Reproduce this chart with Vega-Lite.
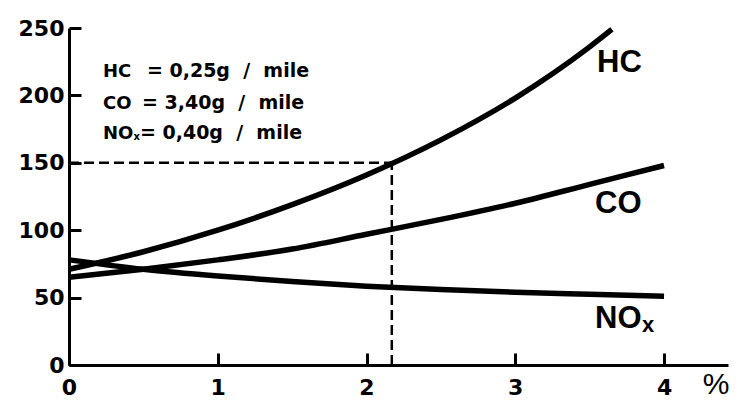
{
  "$schema": "https://vega.github.io/schema/vega-lite/v6.json",
  "width": 659,
  "height": 337,
  "autosize": {"type": "none"},
  "padding": {"left": 69, "top": 28, "right": 24, "bottom": 53},
  "background": "white",
  "config": {"view": {"stroke": null}},
  "datasets": {
    "curves": [
      {"gas": "HC", "x": 0, "y": 71}, {"gas": "HC", "x": 0.5, "y": 84}, {"gas": "HC", "x": 1, "y": 100},
      {"gas": "HC", "x": 1.5, "y": 119}, {"gas": "HC", "x": 2, "y": 141}, {"gas": "HC", "x": 2.5, "y": 167},
      {"gas": "HC", "x": 3, "y": 198}, {"gas": "HC", "x": 3.5, "y": 236}, {"gas": "HC", "x": 3.65, "y": 249},
      {"gas": "CO", "x": 0, "y": 65}, {"gas": "CO", "x": 0.5, "y": 71}, {"gas": "CO", "x": 1, "y": 78},
      {"gas": "CO", "x": 1.5, "y": 86}, {"gas": "CO", "x": 2, "y": 97}, {"gas": "CO", "x": 2.5, "y": 108},
      {"gas": "CO", "x": 3, "y": 120}, {"gas": "CO", "x": 3.5, "y": 134}, {"gas": "CO", "x": 4, "y": 148},
      {"gas": "NOx", "x": 0, "y": 78}, {"gas": "NOx", "x": 0.5, "y": 71}, {"gas": "NOx", "x": 1, "y": 66},
      {"gas": "NOx", "x": 1.5, "y": 62}, {"gas": "NOx", "x": 2, "y": 58.5}, {"gas": "NOx", "x": 2.5, "y": 56},
      {"gas": "NOx", "x": 3, "y": 54}, {"gas": "NOx", "x": 3.5, "y": 52.5}, {"gas": "NOx", "x": 4, "y": 51}
    ],
    "guides": [
      {"x": 0, "x2": 2.17, "y": 150, "y2": 150},
      {"x": 2.17, "x2": 2.17, "y": 0, "y2": 150}
    ],
    "bigLabels": [
      {"text": "HC", "x": 3.55, "y": 217.4},
      {"text": "CO", "x": 3.536, "y": 112.8},
      {"text": "NO", "x": 3.536, "y": 27.4}
    ],
    "bigSub": [{"text": "x", "x": 3.852, "y": 24.5}],
    "legendLeft": [
      {"text": "HC", "x": 0.2286, "y": 213.6},
      {"text": "CO", "x": 0.2286, "y": 189.9},
      {"text": "NO", "x": 0.2286, "y": 167.6}
    ],
    "legendRight": [
      {"text": "= 0,25g\u00a0\u00a0/\u00a0\u00a0mile", "x": 0.524, "y": 213.6},
      {"text": "= 3,40g\u00a0\u00a0/\u00a0\u00a0mile", "x": 0.491, "y": 189.9},
      {"text": "= 0,40g\u00a0\u00a0/\u00a0\u00a0mile", "x": 0.477, "y": 167.6}
    ],
    "legendSub": [{"text": "x", "x": 0.433, "y": 166.9}]
  },
  "encoding": {
    "x": {
      "field": "x", "type": "quantitative",
      "scale": {"domain": [0, 4.43], "nice": false, "zero": false},
      "axis": {
        "values": [0, 1, 2, 3, 4], "grid": false, "format": "d",
        "domainColor": "black", "domainWidth": 3, "tickColor": "black", "tickWidth": 3,
        "tickSize": -12, "labelPadding": 24, "labelColor": "black",
        "labelFont": "DejaVu Sans", "labelFontWeight": "bold", "labelFontSize": 22,
        "labelFlush": false,
        "title": "%", "titleFont": "Liberation Sans", "titleFontWeight": "normal", "titleFontSize": 30,
        "titleColor": "black", "titleAnchor": "end", "titleAlign": "right", "titleBaseline": "alphabetic",
        "titleX": 660, "titleY": 28
      }
    },
    "y": {
      "field": "y", "type": "quantitative",
      "scale": {"domain": [0, 250], "nice": false},
      "axis": {
        "values": [0, 50, 100, 150, 200, 250], "grid": false,
        "domainColor": "black", "domainWidth": 3, "tickColor": "black", "tickWidth": 3,
        "tickSize": -12, "labelPadding": 17, "labelColor": "black",
        "labelFont": "DejaVu Sans", "labelFontWeight": "bold", "labelFontSize": 22,
        "labelFlush": false, "title": null
      }
    }
  },
  "layer": [
    {
      "data": {"name": "guides"},
      "mark": {"type": "rule", "color": "black", "strokeWidth": 2.5, "strokeDash": [10, 5]},
      "encoding": {"x2": {"field": "x2"}, "y2": {"field": "y2"}}
    },
    {
      "data": {"name": "curves"},
      "mark": {"type": "line", "color": "black", "strokeWidth": 5.5, "interpolate": "monotone", "strokeJoin": "round"},
      "encoding": {"detail": {"field": "gas"}}
    },
    {
      "data": {"name": "bigLabels"},
      "mark": {"type": "text", "font": "Liberation Sans", "fontWeight": "bold", "fontSize": 31, "align": "left", "baseline": "alphabetic", "color": "black"},
      "encoding": {"text": {"field": "text"}}
    },
    {
      "data": {"name": "bigSub"},
      "mark": {"type": "text", "font": "Liberation Sans", "fontWeight": "bold", "fontSize": 22, "align": "left", "baseline": "alphabetic", "color": "black"},
      "encoding": {"text": {"field": "text"}}
    },
    {
      "data": {"name": "legendLeft"},
      "mark": {"type": "text", "font": "DejaVu Sans", "fontWeight": "bold", "fontSize": 18, "align": "left", "baseline": "alphabetic", "color": "black"},
      "encoding": {"text": {"field": "text"}}
    },
    {
      "data": {"name": "legendRight"},
      "mark": {"type": "text", "font": "DejaVu Sans", "fontWeight": "bold", "fontSize": 19, "align": "left", "baseline": "alphabetic", "color": "black"},
      "encoding": {"text": {"field": "text"}}
    },
    {
      "data": {"name": "legendSub"},
      "mark": {"type": "text", "font": "DejaVu Sans", "fontWeight": "bold", "fontSize": 10, "align": "left", "baseline": "alphabetic", "color": "black"},
      "encoding": {"text": {"field": "text"}}
    }
  ]
}
